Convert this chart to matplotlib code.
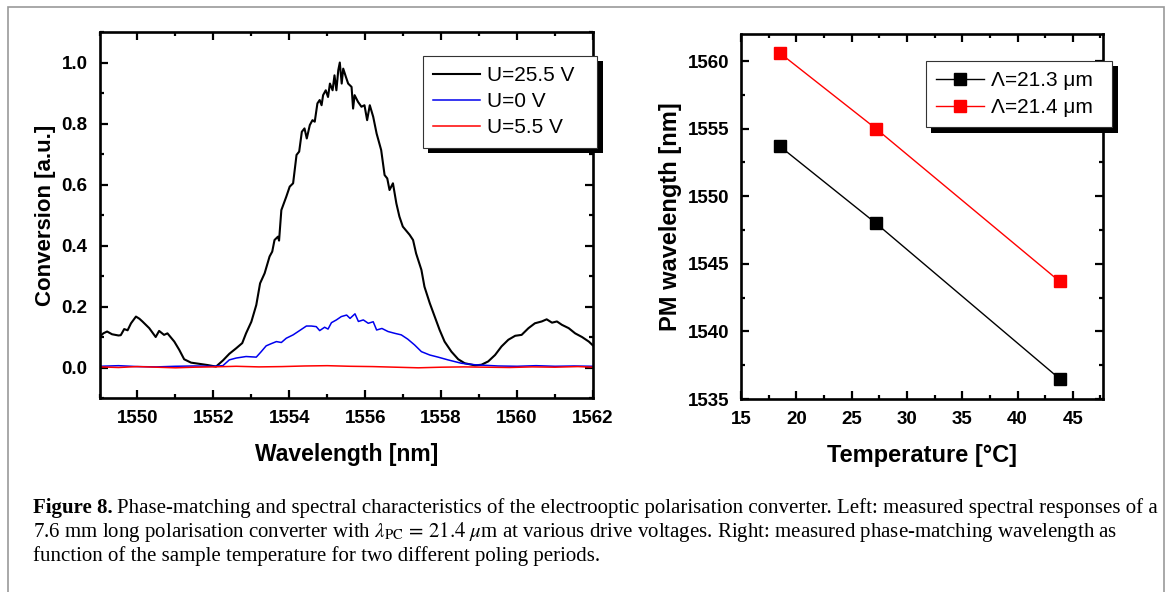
import matplotlib
matplotlib.use('Agg')
import matplotlib.pyplot as plt
import matplotlib.patheffects as pe
from matplotlib.patches import Rectangle
from matplotlib.ticker import MultipleLocator

#spectral responses
wl_black=[1549.00,1549.10,1549.20,1549.33,1549.50,1549.56,1549.65,1549.74,1549.83,1549.96,
          1550.05,1550.13,1550.31,1550.48,1550.57,1550.70,1550.79,1550.97,1551.10,1551.23,
          1551.41,1551.63,1551.85,1552.07,1552.25,1552.42,1552.60,1552.76,1552.86,1553.00,
          1553.13,1553.23,1553.35,1553.48,1553.55,1553.61,1553.70,1553.73,1553.79,1553.92,
          1554.01,1554.10,1554.19,1554.26,1554.33,1554.40,1554.46,1554.54,1554.61,1554.67,
          1554.74,1554.80,1554.85,1554.89,1554.96,1555.02,1555.07,1555.14,1555.19,1555.24,
          1555.29,1555.33,1555.38,1555.42,1555.49,1555.55,1555.64,1555.68,1555.72,1555.81,
          1555.90,1555.98,1556.05,1556.12,1556.21,1556.30,1556.42,1556.51,1556.58,1556.64,
          1556.73,1556.82,1556.90,1556.99,1557.17,1557.26,1557.34,1557.48,1557.56,1557.70,
          1557.83,1557.96,1558.09,1558.27,1558.45,1558.62,1558.89,1559.06,1559.24,1559.42,
          1559.59,1559.77,1559.95,1560.12,1560.30,1560.47,1560.65,1560.78,1560.92,1561.05,
          1561.18,1561.36,1561.53,1561.71,1561.89,1562.00]
conv_black=[0.100,0.112,0.118,0.109,0.105,0.106,0.126,0.122,0.145,0.167,
            0.160,0.151,0.129,0.100,0.120,0.107,0.112,0.085,0.058,0.027,
            0.016,0.012,0.008,0.003,0.023,0.045,0.063,0.080,0.112,0.150,
            0.205,0.276,0.309,0.364,0.380,0.418,0.429,0.416,0.516,0.560,
            0.593,0.604,0.697,0.708,0.773,0.784,0.751,0.795,0.811,0.806,
            0.866,0.877,0.860,0.893,0.909,0.887,0.931,0.909,0.958,0.909,
            0.975,1.000,0.931,0.980,0.953,0.931,0.920,0.849,0.893,0.871,
            0.855,0.860,0.811,0.860,0.822,0.767,0.713,0.631,0.620,0.582,
            0.604,0.538,0.495,0.462,0.435,0.418,0.374,0.320,0.265,0.211,
            0.167,0.123,0.085,0.052,0.027,0.014,0.007,0.009,0.020,0.041,
            0.069,0.091,0.104,0.107,0.129,0.145,0.151,0.158,0.147,0.151,
            0.140,0.129,0.112,0.100,0.085,0.072]

wl_blue=[1549.0,1549.5,1550.0,1550.5,1551.0,1551.5,1552.0,1552.25,1552.42,1552.60,
         1552.86,1553.13,1553.26,1553.39,1553.52,1553.66,1553.79,1553.92,1554.10,1554.27,
         1554.45,1554.58,1554.71,1554.80,1554.93,1555.02,1555.11,1555.24,1555.37,1555.51,
         1555.60,1555.73,1555.82,1555.95,1556.08,1556.21,1556.30,1556.44,1556.60,1556.78,
         1556.95,1557.12,1557.30,1557.48,1557.70,1557.92,1558.18,1558.53,1558.89,1559.5,
         1560.0,1560.5,1561.0,1561.5,1562.0]
conv_blue=[0.004,0.006,0.003,0.002,0.004,0.005,0.004,0.006,0.025,0.031,
           0.036,0.034,0.052,0.071,0.078,0.085,0.082,0.096,0.107,0.121,
           0.136,0.136,0.134,0.121,0.132,0.126,0.147,0.156,0.167,0.172,
           0.161,0.176,0.151,0.156,0.145,0.150,0.123,0.128,0.118,0.112,
           0.107,0.093,0.074,0.052,0.041,0.034,0.025,0.014,0.009,0.005,
           0.004,0.006,0.004,0.005,0.004]

wl_red=[1549.0,1549.5,1550.0,1550.5,1551.0,1551.5,1552.0,1552.6,1553.2,1553.8,1554.4,1555.0,
        1555.6,1556.2,1556.8,1557.4,1558.0,1558.6,1559.2,1559.8,1560.4,1561.0,1561.6,1562.0]
conv_red=[0.002,0.000,0.003,0.001,-0.001,0.001,0.002,0.004,0.002,0.003,0.005,0.006,
          0.004,0.003,0.001,-0.001,0.001,0.002,0.001,0.000,0.002,0.001,0.003,0.001]

labels_left=['U=25.5 V','U=0 V','U=5.5 V']

#phase matching wavelength vs temperature (right panel)
temp=[18.5,27.2,43.8]
pm_213=[1553.7,1548.0,1536.5]
pm_214=[1560.6,1555.0,1543.7]
labels_right=['Λ=21.3 μm','Λ=21.4 μm']

plt.rcParams['font.family']=['Liberation Sans','DejaVu Sans']
plt.rcParams['mathtext.fontset']='stix'

fig=plt.figure(figsize=(11.68,5.92),dpi=100)

def style_axes(ax):
    for s in ax.spines.values():
        s.set_linewidth(1.9)
    ax.tick_params(which='both',direction='in',top=True,right=True,width=1.6,labelsize=13.5)
    ax.tick_params(which='major',length=6,pad=8.5)
    ax.tick_params(which='minor',length=3)
    for lab in ax.get_xticklabels()+ax.get_yticklabels():
        lab.set_fontweight('bold')

shadow=[pe.SimplePatchShadow(offset=(4,-4),shadow_rgbFace='k',alpha=1),pe.Normal()]

#left panel
ax1=fig.add_axes([0.0852,0.3277,0.4225,0.6182])
ax1.plot(wl_black,conv_black,color='black',lw=1.5,label=labels_left[0])
ax1.plot(wl_blue,conv_blue,color='#0000ee',lw=1.1,label=labels_left[1])
ax1.plot(wl_red,conv_red,color='#ff0000',lw=1.1,label=labels_left[2])
ax1.set_xlim(1549,1562)
ax1.set_ylim(-0.1,1.1)
ax1.xaxis.set_major_locator(MultipleLocator(2))
ax1.xaxis.set_minor_locator(MultipleLocator(1))
ax1.yaxis.set_major_locator(MultipleLocator(0.2))
ax1.yaxis.set_minor_locator(MultipleLocator(0.1))
ax1.set_yticks([0,0.2,0.4,0.6,0.8,1.0])
ax1.set_yticklabels(['0.0','0.2','0.4','0.6','0.8','1.0'])
style_axes(ax1)
ax1.set_xlabel('Wavelength [nm]',fontsize=16.5,fontweight='bold',labelpad=12)
ax1.set_ylabel('Conversion [a.u.]',fontsize=16,fontweight='bold',labelpad=4)
leg1=ax1.legend(loc='upper left',bbox_to_anchor=(0.655,0.935,0.354,0),mode='expand',borderaxespad=0,
                fontsize=15,fancybox=False,framealpha=1,edgecolor='#333333',
                handlelength=2.25,handletextpad=0.33,borderpad=0.5,labelspacing=0.34)
leg1.get_frame().set_linewidth(0.8)
leg1.get_frame().set_path_effects(shadow)

#right panel
ax2=fig.add_axes([0.6344,0.326,0.3097,0.6166])
ax2.plot(temp,pm_213,color='black',lw=1,marker='s',ms=8,label=labels_right[0])
ax2.plot(temp,pm_214,color='#ff0000',lw=1,marker='s',ms=8,label=labels_right[1])
ax2.set_xlim(15,47.7)
ax2.set_ylim(1535,1562)
ax2.xaxis.set_major_locator(MultipleLocator(5))
ax2.xaxis.set_minor_locator(MultipleLocator(2.5))
ax2.yaxis.set_major_locator(MultipleLocator(5))
ax2.yaxis.set_minor_locator(MultipleLocator(2.5))
style_axes(ax2)
ax2.set_xlabel('Temperature [°C]',fontsize=17,fontweight='bold',labelpad=12)
ax2.set_ylabel('PM wavelength [nm]',fontsize=17,fontweight='bold',labelpad=4)
leg2=ax2.legend(loc='upper left',bbox_to_anchor=(0.511,0.927,0.515,0),mode='expand',borderaxespad=0,
                fontsize=15,fancybox=False,framealpha=1,edgecolor='#333333',
                handlelength=2.3,handletextpad=0.35,borderpad=0.5,labelspacing=0.38,numpoints=1)
leg2.get_frame().set_linewidth(0.8)
leg2.get_frame().set_path_effects(shadow)

#grey frame around the figure
fig.patches.append(Rectangle((8/1168,-0.01),(1164-8)/1168,(592-7)/592+0.01,
                             transform=fig.transFigure,fill=False,edgecolor='#999999',lw=1.2))

#caption
cap_size=15
cap_font=['Liberation Serif','DejaVu Serif']
x0=33/1168
t=fig.text(x0,1-508/592,'Figure 8.',fontsize=cap_size,fontweight='bold',family=cap_font,va='center')
fig.canvas.draw()
r=fig.canvas.get_renderer()
bb=t.get_window_extent(r)
fig.text(bb.x1/1168+4/1168,1-508/592,
         'Phase-matching and spectral characteristics of the electrooptic polarisation converter. Left: measured spectral responses of a',
         fontsize=cap_size,family=cap_font,va='center')
fig.text(x0,1-532/592,
         r'7.6 mm long polarisation converter with $\lambda_{\rm PC}\,=\,21.4\ \mu$m at various drive voltages. Right: measured phase-matching wavelength as',
         fontsize=cap_size,family=cap_font,va='center')
fig.text(x0,1-556/592,'function of the sample temperature for two different poling periods.',
         fontsize=cap_size,family=cap_font,va='center')

plt.savefig('out.png',dpi=100)
